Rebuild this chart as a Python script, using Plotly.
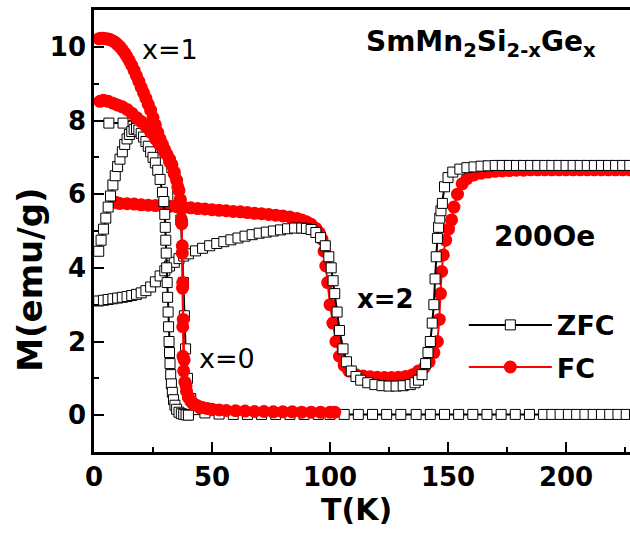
import plotly.graph_objects as go

# ---------------- data ----------------
# x = 0 sample, ZFC (mostly hidden under FC at low T, then the long zero line)
zfc_x0_T = [6.3, 12.3, 18, 24, 29, 33, 35.5, 36.8, 37.4, 37.9,
            38.3, 38.8, 39.6, 41, 43.5, 47, 53, 59, 65, 71,
            77, 83, 89, 95, 100, 106, 112, 118, 124, 130,
            136.5, 142.5, 148.5, 154.5, 160.5, 166.5, 172.5, 178.5, 184.5, 190.5,
            194, 197.5, 201, 204.5, 208, 211.5, 215, 218.5, 222, 225.5,
            229]
zfc_x0_M = [7.93, 7.93, 8.05, 7.65, 7.25, 6.72, 5.95, 5.30, 4.50, 3.60,
            2.70, 1.80, 1.00, 0.45, 0.15, 0.06, 0.03, 0.02, 0.02, 0.02,
            0.02, 0.02, 0.02, 0.02, 0.02, 0.02, 0.02, 0.02, 0.02, 0.02,
            0.02, 0.02, 0.02, 0.02, 0.02, 0.02, 0.02, 0.02, 0.02, 0.02,
            0.02, 0.02, 0.02, 0.02, 0.02, 0.02, 0.02, 0.02, 0.02, 0.02,
            0.02]

# x = 0 sample, FC (starts at 8.5)
fc_x0_T = [2.5, 4, 6, 8, 10, 12, 14, 16, 18, 20,
           22, 24, 26, 28, 30, 32, 34, 35.5, 36.5, 37.1,
           37.4, 37.6, 37.8, 38.2, 39, 40, 42, 45, 50]
fc_x0_M = [8.52, 8.55, 8.52, 8.47, 8.42, 8.37, 8.30, 8.20, 8.08, 7.97,
           7.83, 7.68, 7.50, 7.33, 7.12, 6.88, 6.55, 6.20, 5.85, 5.30,
           4.60, 3.60, 2.60, 1.50, 0.80, 0.50, 0.30, 0.20, 0.15]

# x = 1 sample, ZFC (the arch)
zfc_x1_T = [2, 3, 4, 5, 6, 7, 8, 9, 10, 11,
            12, 13, 14, 15, 16, 17, 18, 19, 20, 21,
            22, 23, 24, 25, 26, 27, 28, 29, 29.6, 30.0,
            30.2, 30.4, 30.6, 30.8, 31.0, 31.2, 31.4, 31.6, 31.8, 32.0,
            32.2, 32.5, 32.8, 33.2, 33.7, 34.3, 35, 36, 37, 38,
            39, 40]
zfc_x1_M = [4.45, 4.75, 5.05, 5.35, 5.65, 5.95, 6.25, 6.50, 6.75, 6.95,
            7.15, 7.35, 7.50, 7.62, 7.70, 7.76, 7.78, 7.74, 7.65, 7.55,
            7.43, 7.30, 7.15, 7.00, 6.85, 6.65, 6.40, 6.05, 5.80, 5.45,
            5.10, 4.75, 4.40, 4.00, 3.60, 3.20, 2.80, 2.40, 2.00, 1.70,
            1.40, 1.10, 0.85, 0.62, 0.42, 0.27, 0.16, 0.08, 0.04, 0.02,
            0.01, 0.00]

# x = 1 sample, FC (starts at 10.2)
fc_x1_T = [2, 3, 4, 5, 6, 7, 8, 9, 10, 11,
           12, 13, 14, 15, 16, 17, 18, 19, 20, 21,
           22, 23, 24, 25, 26, 27, 28, 29, 30, 31,
           32, 33, 34, 35, 36, 36.6, 37.0, 37.2, 37.4, 37.5,
           37.6, 37.7, 38.0, 38.5, 39.2, 40, 41, 42.5, 44, 46,
           48, 50, 53, 56, 60, 64, 68, 72, 76, 80,
           84, 88, 92, 96, 100, 102]
fc_x1_M = [10.22, 10.23, 10.23, 10.22, 10.21, 10.19, 10.16, 10.12, 10.06, 10.00,
           9.92, 9.83, 9.73, 9.62, 9.50, 9.36, 9.21, 9.06, 8.90, 8.75,
           8.60, 8.44, 8.28, 8.08, 7.88, 7.68, 7.50, 7.35, 7.20, 7.07,
           6.95, 6.80, 6.60, 6.38, 6.10, 5.85, 5.60, 5.20, 4.40, 3.45,
           2.40, 1.60, 1.20, 0.90, 0.65, 0.48, 0.38, 0.30, 0.25, 0.21,
           0.18, 0.16, 0.14, 0.13, 0.12, 0.11, 0.10, 0.10, 0.09, 0.09,
           0.09, 0.08, 0.08, 0.08, 0.08, 0.08]

# x = 2 sample, ZFC
zfc_x2_T = [2, 4, 6, 8, 10, 12, 14, 16, 18, 20,
            22, 24, 26, 28, 30, 32, 34, 36, 38, 40,
            43, 46, 49, 52, 55, 58, 61, 64, 67, 70,
            73, 76, 79, 82, 85, 88, 90, 92, 94, 96,
            98, 99.5, 100.5, 101.3, 102, 103, 104, 105.5, 107, 109,
            111, 113, 116, 119, 122, 125, 128, 131, 134, 136,
            137.5, 139, 140.5, 141.5, 142.5, 143.3, 144, 144.5, 145, 145.5,
            146, 146.5, 147, 147.6, 148.5, 150, 152, 155, 158, 161,
            164, 167, 170, 173, 176, 179, 182, 185, 188, 191,
            194, 197, 200, 203, 206, 209, 212, 215, 218, 221,
            224, 227, 230]
zfc_x2_M = [3.10, 3.12, 3.14, 3.16, 3.18, 3.20, 3.22, 3.25, 3.28, 3.32,
            3.38, 3.48, 3.62, 3.78, 3.92, 4.05, 4.15, 4.25, 4.32, 4.38,
            4.46, 4.53, 4.60, 4.66, 4.71, 4.76, 4.81, 4.86, 4.90, 4.94,
            4.97, 5.00, 5.03, 5.06, 5.08, 5.08, 5.07, 5.04, 4.96, 4.82,
            4.60, 4.30, 4.00, 3.65, 3.30, 2.80, 2.30, 1.80, 1.45, 1.20,
            1.05, 0.95, 0.88, 0.83, 0.80, 0.79, 0.79, 0.80, 0.83, 0.88,
            0.95, 1.10, 1.40, 1.70, 2.00, 2.50, 3.00, 3.70, 4.30, 4.80,
            5.10, 5.35, 5.55, 5.75, 6.20, 6.45, 6.60, 6.68, 6.72, 6.74,
            6.76, 6.77, 6.78, 6.78, 6.78, 6.78, 6.78, 6.78, 6.78, 6.78,
            6.78, 6.78, 6.78, 6.78, 6.78, 6.78, 6.78, 6.78, 6.78, 6.78,
            6.78, 6.78, 6.78]

# x = 2 sample, FC
fc_x2_T = [9, 10, 11, 14, 17, 20, 23, 26, 29, 32,
           35, 38, 41, 44, 47, 50, 53, 56, 59, 62,
           65, 68, 71, 74, 77, 80, 83, 86, 88, 90,
           92, 94, 95.5, 96.6, 97.5, 98.2, 99, 100, 101.2, 102.5,
           104, 106, 108, 111, 114, 117, 120, 123, 126, 129,
           132, 135, 137.5, 140, 142, 144, 145.5, 146.3, 146.8, 147.3,
           148, 149, 150.2, 151.5, 152.5, 154, 156, 158, 161, 164,
           167, 170, 173, 176, 179, 182, 185, 188, 191, 194,
           197, 200, 203, 206, 209, 212, 215, 218, 221, 224,
           227, 230]
fc_x2_M = [5.78, 5.76, 5.75, 5.74, 5.73, 5.71, 5.70, 5.69, 5.68, 5.67,
           5.66, 5.64, 5.63, 5.61, 5.60, 5.58, 5.56, 5.55, 5.53, 5.52,
           5.50, 5.48, 5.47, 5.45, 5.43, 5.41, 5.38, 5.34, 5.30, 5.25,
           5.18, 5.07, 4.95, 4.78, 4.45, 4.05, 3.60, 3.00, 2.50, 2.00,
           1.60, 1.35, 1.20, 1.10, 1.06, 1.04, 1.03, 1.02, 1.02, 1.03,
           1.05, 1.10, 1.20, 1.30, 1.45, 1.70, 2.00, 2.60, 3.30, 3.90,
           4.35, 4.75, 5.05, 5.30, 5.65, 6.00, 6.28, 6.42, 6.52, 6.57,
           6.60, 6.62, 6.63, 6.64, 6.65, 6.65, 6.66, 6.66, 6.66, 6.66,
           6.66, 6.66, 6.66, 6.66, 6.66, 6.66, 6.66, 6.66, 6.66, 6.66,
           6.66, 6.66]

x_ticks = [0, 50, 100, 150, 200]
y_ticks = [0, 2, 4, 6, 8, 10]

# ---------------- styling ----------------
FONT = "DejaVu Sans"
RED = "#ff0000"


def zfc_trace(T, M, show=False):
    return go.Scatter(
        x=T, y=M, mode="lines+markers", name="ZFC",
        legendgroup="zfc", legendrank=1, showlegend=show,
        line=dict(color="black", width=2),
        marker=dict(symbol="square", size=10, color="white",
                    line=dict(color="black", width=1)),
    )


def fc_trace(T, M, show=False):
    return go.Scatter(
        x=T, y=M, mode="lines+markers", name="FC",
        legendgroup="fc", legendrank=2, showlegend=show,
        line=dict(color=RED, width=2),
        marker=dict(symbol="circle", size=13, color=RED,
                    line=dict(color=RED, width=0)),
    )


fig = go.Figure()
fig.add_trace(zfc_trace(zfc_x0_T, zfc_x0_M))
fig.add_trace(fc_trace(fc_x2_T, fc_x2_M, show=True))
fig.add_trace(zfc_trace(zfc_x2_T, zfc_x2_M, show=True))
fig.add_trace(zfc_trace(zfc_x1_T, zfc_x1_M))
fig.add_trace(fc_trace(fc_x1_T, fc_x1_M))
fig.add_trace(fc_trace(fc_x0_T, fc_x0_M))

tick_font = dict(family=FONT, size=26, color="black", weight="bold")

fig.update_layout(
    width=630, height=536,
    margin=dict(l=94, r=0, t=10, b=84, pad=0),
    paper_bgcolor="white", plot_bgcolor="white",
    font=dict(family=FONT, color="black"),
    xaxis=dict(
        range=[0, 227.1], tickvals=x_ticks, ticktext=[str(v) for v in x_ticks],
        ticks="inside", ticklen=10, tickwidth=2, tickcolor="black",
        showline=True, linewidth=2.5, linecolor="black", mirror=True,
        showgrid=False, zeroline=False, tickfont=tick_font,
        minor=dict(tickvals=[25, 75, 125, 175, 225], ticks="inside",
                   ticklen=5, tickwidth=2, tickcolor="black", showgrid=False),
    ),
    yaxis=dict(
        range=[-1, 11], tickvals=y_ticks, ticktext=[str(v) for v in y_ticks],
        ticks="inside", ticklen=10, tickwidth=2, tickcolor="black",
        showline=True, linewidth=2.5, linecolor="black", mirror=False,
        showgrid=False, zeroline=False, tickfont=tick_font,
        minor=dict(tickvals=[-1, 1, 3, 5, 7, 9], ticks="inside",
                   ticklen=5, tickwidth=2, tickcolor="black", showgrid=False),
    ),
    legend=dict(
        x=0.69, y=0.342, xanchor="left", yanchor="top",
        bgcolor="rgba(0,0,0,0)", borderwidth=0, itemwidth=83,
        font=dict(family=FONT, size=27, color="black", weight="bold"),
        traceorder="grouped", tracegroupgap=4,
    ),
)

ann = [
    dict(text="<b>M(emu/g)</b>", xref="paper", yref="paper", x=-0.121, y=0.39,
         textangle=-90, font=dict(size=34)),
    dict(text="<b>T(K)</b>", xref="paper", yref="paper", x=0.49, y=-0.131,
         font=dict(size=30)),
    dict(text="<b>SmMn<sub>2</sub>Si<sub>2-x</sub>Ge<sub>x</sub></b>",
         xref="x", yref="y", x=164, y=10.1, font=dict(size=28)),
    dict(text="<b>200Oe</b>", xref="x", yref="y", x=190.7, y=4.85,
         font=dict(size=28)),
    dict(text="<b>x=2</b>", xref="x", yref="y", x=123.3, y=3.16,
         font=dict(size=26)),
    dict(text="x=1", xref="x", yref="y", x=32.2, y=9.92, font=dict(size=27)),
    dict(text="x=0", xref="x", yref="y", x=43.6, y=1.55, xanchor="left",
         font=dict(size=27)),
]
for a in ann:
    a.setdefault("xanchor", "center")
    a["showarrow"] = False
    a["yanchor"] = "middle"
    a["font"] = dict(family=FONT, color="black", **a["font"])
    fig.add_annotation(**a)

fig.write_html("out.html")
